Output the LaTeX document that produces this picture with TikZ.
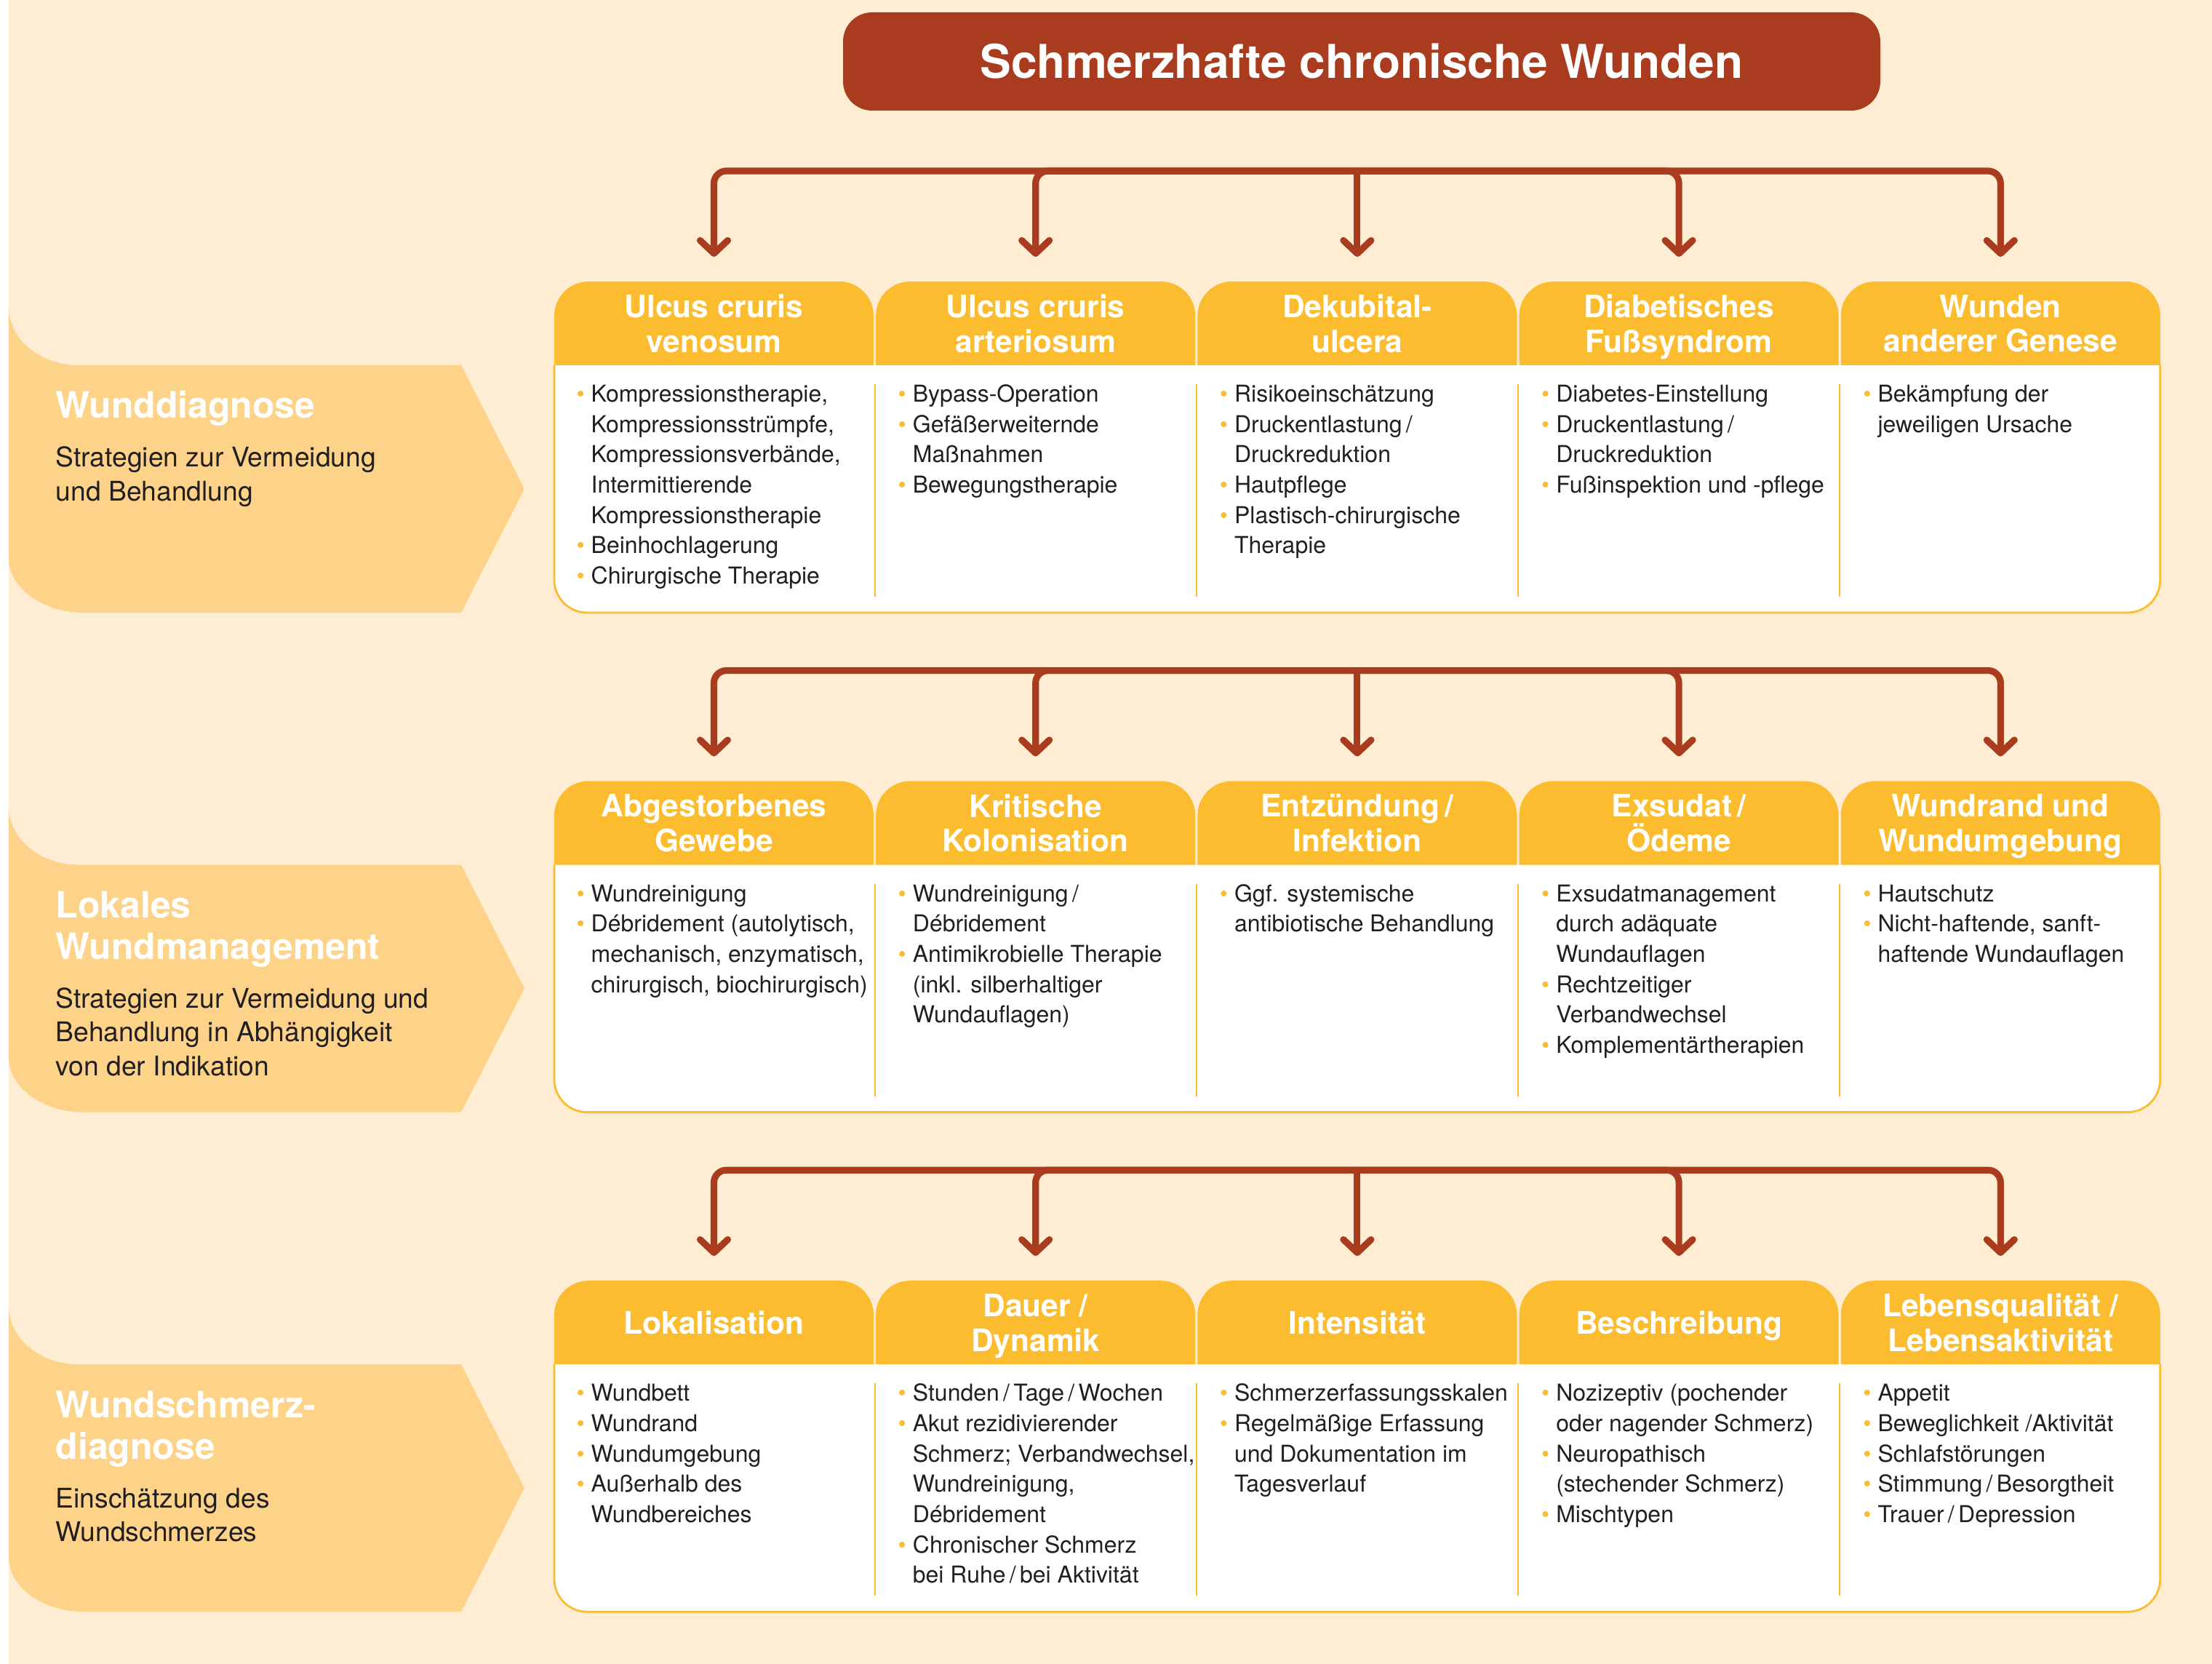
\documentclass[tikz,border=0pt]{standalone}
\usepackage{fontspec}
\setmainfont{TeX Gyre Heros}
\usetikzlibrary{positioning, arrows.meta, backgrounds}

\definecolor{rust}{HTML}{A93C1E}
\definecolor{amber}{HTML}{FCBC30}
\definecolor{cream}{HTML}{FEEDD3}
\definecolor{peach}{HTML}{FDD389}
\definecolor{ink}{HTML}{231F20}

\newcommand{\itm}{\strut\llap{\textcolor{amber}{\textbullet}\hspace{0.9mm}}}

\begin{document}
\begin{tikzpicture}[
titlebox/.style={fill=rust, rounded corners=4mm, minimum width=14.26cm, minimum height=1.35cm, text=white, font=\fontsize{18.2}{22}\selectfont\bfseries},
head/.style={minimum width=4.39cm, minimum height=1.15cm, inner sep=0pt, outer sep=0pt, text depth=0pt, align=center, text=white, font=\fontsize{12.1}{13.6}\selectfont\bfseries},
txt/.style={anchor=north west, inner sep=0pt, align=left, text=ink, font=\fontsize{9.1}{11.85}\selectfont},
side/.style={anchor=north west, inner sep=0pt, align=left, text=white, font=\fontsize{14.2}{16.3}\selectfont\bfseries},
sidetxt/.style={anchor=north west, inner sep=0pt, align=left, text=ink, font=\fontsize{10.6}{13.2}\selectfont},
conn/.style={rust, line width=2.6pt, rounded corners=1.7mm, -{Straight Barb[length=1.8mm, width=3.8mm, round]}},
tab/.style={fill=amber, rounded corners=4.7mm},
panel/.style={draw=amber, line width=0.8pt, fill=white, rounded corners=4.5mm},
colsep/.style={amber, line width=0.6pt}
]
\useasboundingbox (0,0) rectangle (30.41,-22.87);

\node[titlebox] (title) at (18.72,-0.845) {Schmerzhafte chronische Wunden};

% Wunddiagnose
\node[head, anchor=north west] (ucv) at (7.62,-3.87) {Ulcus cruris\\venosum};
\node[head, right=0.032cm of ucv] (uca) {Ulcus cruris\\arteriosum};
\node[head, right=0.032cm of uca] (deku) {Dekubital-\\ulcera};
\node[head, right=0.032cm of deku] (dfs) {Diabetisches\\Fußsyndrom};
\node[head, right=0.032cm of dfs] (wag) {Wunden\\anderer Genese};

\node[txt, below right=0.208cm and 0.5cm of ucv.south west] (ucvtxt) {\itm Kompressionstherapie,\\Kompressionsstrümpfe,\\Kompressionsverbände,\\Intermittierende\\Kompressionstherapie\\\itm Beinhochlagerung\\\itm Chirurgische Therapie};
\node[txt, below right=0.208cm and 0.5cm of uca.south west] (ucatxt) {\itm Bypass-Operation\\\itm Gefäßerweiternde\\Maßnahmen\\\itm Bewegungstherapie};
\node[txt, below right=0.208cm and 0.5cm of deku.south west] (dekutxt) {\itm Risikoeinschätzung\\\itm Druckentlastung\,/\\Druckreduktion\\\itm Hautpflege\\\itm Plastisch-chirurgische\\Therapie};
\node[txt, below right=0.208cm and 0.5cm of dfs.south west] (dfstxt) {\itm Diabetes-Einstellung\\\itm Druckentlastung\,/\\Druckreduktion\\\itm Fußinspektion und -pflege};
\node[txt, below right=0.208cm and 0.5cm of wag.south west] (wagtxt) {\itm Bekämpfung der\\jeweiligen Ursache};

\node[side] (wdiag) at (0.76,-5.34) {\strut Wunddiagnose};
\node[sidetxt] (wdiagtxt) at (0.76,-6.085) {\strut Strategien zur Vermeidung\\und Behandlung};

% Lokales Wundmanagement
\node[head, below=5.716cm of ucv] (nekro) {Abgestorbenes\\Gewebe};
\node[head, right=0.032cm of nekro] (kolon) {Kritische\\Kolonisation};
\node[head, right=0.032cm of kolon] (infekt) {Entzündung\,/\\Infektion};
\node[head, right=0.032cm of infekt] (exsud) {Exsudat\,/\\Ödeme};
\node[head, right=0.032cm of exsud] (wrand) {Wundrand und\\Wundumgebung};

\node[txt, below right=0.208cm and 0.5cm of nekro.south west] (nekrotxt) {\itm Wundreinigung\\\itm Débridement (autolytisch,\\mechanisch, enzymatisch,\\chirurgisch, biochirurgisch)};
\node[txt, below right=0.208cm and 0.5cm of kolon.south west] (kolontxt) {\itm Wundreinigung\,/\\Débridement\\\itm Antimikrobielle Therapie\\(inkl. silberhaltiger\\Wundauflagen)};
\node[txt, below right=0.208cm and 0.5cm of infekt.south west] (infekttxt) {\itm Ggf. systemische\\antibiotische Behandlung};
\node[txt, below right=0.208cm and 0.5cm of exsud.south west] (exsudtxt) {\itm Exsudatmanagement\\durch adäquate\\Wundauflagen\\\itm Rechtzeitiger\\Verbandwechsel\\\itm Komplementärtherapien};
\node[txt, below right=0.208cm and 0.5cm of wrand.south west] (wrandtxt) {\itm Hautschutz\\\itm Nicht-haftende, sanft-\\haftende Wundauflagen};

\node[side] (wman) at (0.76,-12.206) {\strut Lokales\\Wundmanagement};
\node[sidetxt] (wmantxt) at (0.76,-13.524) {\strut Strategien zur Vermeidung und\\Behandlung in Abhängigkeit\\von der Indikation};

% Wundschmerzdiagnose
\node[head, below=5.716cm of nekro] (lokal) {Lokalisation};
\node[head, right=0.032cm of lokal] (dauer) {Dauer /\\Dynamik};
\node[head, right=0.032cm of dauer] (intens) {Intensität};
\node[head, right=0.032cm of intens] (beschr) {Beschreibung};
\node[head, right=0.032cm of beschr] (lebq) {Lebensqualität /\\Lebensaktivität};

\node[txt, below right=0.208cm and 0.5cm of lokal.south west] (lokaltxt) {\itm Wundbett\\\itm Wundrand\\\itm Wundumgebung\\\itm Außerhalb des\\Wundbereiches};
\node[txt, below right=0.208cm and 0.5cm of dauer.south west] (dauertxt) {\itm Stunden\,/\,Tage\,/\,Wochen\\\itm Akut rezidivierender\\Schmerz; Verbandwechsel,\\Wundreinigung,\\Débridement\\\itm Chronischer Schmerz\\bei Ruhe\,/\,bei Aktivität};
\node[txt, below right=0.208cm and 0.5cm of intens.south west] (intenstxt) {\itm Schmerzerfassungsskalen\\\itm Regelmäßige Erfassung\\und Dokumentation im\\Tagesverlauf};
\node[txt, below right=0.208cm and 0.5cm of beschr.south west] (beschrtxt) {\itm Nozizeptiv (pochender\\oder nagender Schmerz)\\\itm Neuropathisch\\(stechender Schmerz)\\\itm Mischtypen};
\node[txt, below right=0.208cm and 0.5cm of lebq.south west] (lebqtxt) {\itm Appetit\\\itm Beweglichkeit /Aktivität\\\itm Schlafstörungen\\\itm Stimmung\,/\,Besorgtheit\\\itm Trauer\,/\,Depression};

\node[side] (wschmerz) at (0.76,-19.072) {\strut Wundschmerz-\\diagnose};
\node[sidetxt] (wschmerztxt) at (0.76,-20.39) {\strut Einschätzung des\\Wundschmerzes};

% connectors
\draw[conn] ([yshift=15.2mm]deku.north) -| ([yshift=3.4mm]ucv.north);
\draw[conn] ([yshift=15.2mm]deku.north) -| ([yshift=3.4mm]uca.north);
\draw[conn] ([yshift=15.2mm]deku.north) -- ([yshift=3.4mm]deku.north);
\draw[conn] ([yshift=15.2mm]deku.north) -| ([yshift=3.4mm]dfs.north);
\draw[conn] ([yshift=15.2mm]deku.north) -| ([yshift=3.4mm]wag.north);

\draw[conn] ([yshift=15.2mm]infekt.north) -| ([yshift=3.4mm]nekro.north);
\draw[conn] ([yshift=15.2mm]infekt.north) -| ([yshift=3.4mm]kolon.north);
\draw[conn] ([yshift=15.2mm]infekt.north) -- ([yshift=3.4mm]infekt.north);
\draw[conn] ([yshift=15.2mm]infekt.north) -| ([yshift=3.4mm]exsud.north);
\draw[conn] ([yshift=15.2mm]infekt.north) -| ([yshift=3.4mm]wrand.north);

\draw[conn] ([yshift=15.2mm]intens.north) -| ([yshift=3.4mm]lokal.north);
\draw[conn] ([yshift=15.2mm]intens.north) -| ([yshift=3.4mm]dauer.north);
\draw[conn] ([yshift=15.2mm]intens.north) -- ([yshift=3.4mm]intens.north);
\draw[conn] ([yshift=15.2mm]intens.north) -| ([yshift=3.4mm]beschr.north);
\draw[conn] ([yshift=15.2mm]intens.north) -| ([yshift=3.4mm]lebq.north);

\begin{scope}[on background layer]
\fill[cream] (0.12,0) rectangle (30.41,-22.87);

% side arrows
\fill[peach] (0.12,-4.22) -- (0.12,-7.67) arc[start angle=180, end angle=270, x radius=1.04cm, y radius=0.75cm] -- (6.34,-8.42) -- (7.21,-6.72) -- (6.34,-5.02) -- (1.08,-5.02) arc[start angle=270, end angle=180, x radius=0.96cm, y radius=0.8cm] -- cycle;
\fill[peach] (0.12,-11.086) -- (0.12,-14.536) arc[start angle=180, end angle=270, x radius=1.04cm, y radius=0.75cm] -- (6.34,-15.286) -- (7.21,-13.586) -- (6.34,-11.886) -- (1.08,-11.886) arc[start angle=270, end angle=180, x radius=0.96cm, y radius=0.8cm] -- cycle;
\fill[peach] (0.12,-17.952) -- (0.12,-21.402) arc[start angle=180, end angle=270, x radius=1.04cm, y radius=0.75cm] -- (6.34,-22.152) -- (7.21,-20.452) -- (6.34,-18.752) -- (1.08,-18.752) arc[start angle=270, end angle=180, x radius=0.96cm, y radius=0.8cm] -- cycle;

% panels
\draw[panel] (ucv.south west) -- ++(0,-3.40) -| (wag.south east);
\draw[panel] (nekro.south west) -- ++(0,-3.40) -| (wrand.south east);
\draw[panel] (lokal.south west) -- ++(0,-3.40) -| (lebq.south east);

% tabs
\fill[tab] (ucv.south west) |- (ucv.north east) -- (ucv.south east);
\fill[tab] (uca.south west) |- (uca.north east) -- (uca.south east);
\fill[tab] (deku.south west) |- (deku.north east) -- (deku.south east);
\fill[tab] (dfs.south west) |- (dfs.north east) -- (dfs.south east);
\fill[tab] (wag.south west) |- (wag.north east) -- (wag.south east);
\fill[tab] (nekro.south west) |- (nekro.north east) -- (nekro.south east);
\fill[tab] (kolon.south west) |- (kolon.north east) -- (kolon.south east);
\fill[tab] (infekt.south west) |- (infekt.north east) -- (infekt.south east);
\fill[tab] (exsud.south west) |- (exsud.north east) -- (exsud.south east);
\fill[tab] (wrand.south west) |- (wrand.north east) -- (wrand.south east);
\fill[tab] (lokal.south west) |- (lokal.north east) -- (lokal.south east);
\fill[tab] (dauer.south west) |- (dauer.north east) -- (dauer.south east);
\fill[tab] (intens.south west) |- (intens.north east) -- (intens.south east);
\fill[tab] (beschr.south west) |- (beschr.north east) -- (beschr.south east);
\fill[tab] (lebq.south west) |- (lebq.north east) -- (lebq.south east);

% column lines
\draw[colsep] ([xshift=-0.016cm, yshift=-0.26cm]uca.south west) -- ++(0,-2.92);
\draw[colsep] ([xshift=-0.016cm, yshift=-0.26cm]deku.south west) -- ++(0,-2.92);
\draw[colsep] ([xshift=-0.016cm, yshift=-0.26cm]dfs.south west) -- ++(0,-2.92);
\draw[colsep] ([xshift=-0.016cm, yshift=-0.26cm]wag.south west) -- ++(0,-2.92);
\draw[colsep] ([xshift=-0.016cm, yshift=-0.26cm]kolon.south west) -- ++(0,-2.92);
\draw[colsep] ([xshift=-0.016cm, yshift=-0.26cm]infekt.south west) -- ++(0,-2.92);
\draw[colsep] ([xshift=-0.016cm, yshift=-0.26cm]exsud.south west) -- ++(0,-2.92);
\draw[colsep] ([xshift=-0.016cm, yshift=-0.26cm]wrand.south west) -- ++(0,-2.92);
\draw[colsep] ([xshift=-0.016cm, yshift=-0.26cm]dauer.south west) -- ++(0,-2.92);
\draw[colsep] ([xshift=-0.016cm, yshift=-0.26cm]intens.south west) -- ++(0,-2.92);
\draw[colsep] ([xshift=-0.016cm, yshift=-0.26cm]beschr.south west) -- ++(0,-2.92);
\draw[colsep] ([xshift=-0.016cm, yshift=-0.26cm]lebq.south west) -- ++(0,-2.92);
\end{scope}
\end{tikzpicture}
\end{document}
